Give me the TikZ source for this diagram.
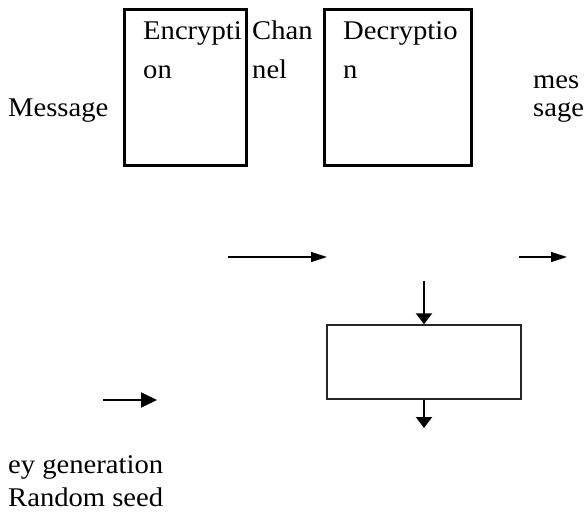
\documentclass[tikz,border=0pt]{standalone}
\usepackage{fontspec}
\setmainfont{Liberation Serif}
\usetikzlibrary{arrows.meta}
\begin{document}
\begin{tikzpicture}[x=1pt,y=-1pt,
  txt/.style={font=\fontsize{27}{30}\selectfont, inner sep=0pt, anchor=base west, xscale=1.06, transform shape},
  bigbox/.style={draw, line width=3pt, minimum width=122pt, minimum height=156pt, inner sep=0pt},
  thinbox/.style={draw, black!85, line width=1.4pt, minimum width=194pt, minimum height=74pt, inner sep=0pt},
  harrow/.style={line width=1.3pt, -{Triangle[length=16pt,width=10pt]}},
  vharrow/.style={line width=2pt, -{Triangle[length=11pt,width=16pt]}},
  larrow/.style={line width=2pt, -{Triangle[length=16pt,width=15pt]}}]
\useasboundingbox (0,0) rectangle (584,513);
% big boxes
\node[bigbox] (enc) at (185.5,87.5) {};
\node[bigbox, minimum width=147pt] (dec) at (398,87.5) {};
% texts
\node[txt] (t1) at (143,40) {Encrypti};
\node[txt] (t2) at (143,79) {on};
\node[txt] (t3) at (252,40) {Chan};
\node[txt] (t4) at (252,79) {nel};
\node[txt] (t5) at (343,40) {Decryptio};
\node[txt] (t6) at (343,79) {n};
\node[txt] (t7) at (533,89) {mes};
\node[txt] (t8) at (533,117) {sage};
\node[txt] (msg) at (8,117) {Message};
\node[txt] (kg) at (8,473) {ey generation};
\node[txt] (rs) at (8,506) {Random seed};
% arrows
\coordinate (a1s) at (228,257);
\coordinate (a1e) at (327,257);
\draw[harrow] (a1s) -- (a1e);
\coordinate (a2s) at (519,257);
\coordinate (a2e) at (567,257);
\draw[harrow] (a2s) -- (a2e);
% lower box
\node[thinbox] (kbox) at (424,362) {};
\coordinate (dtop) at (424,281);
\coordinate (dbot) at (424,428);
\draw[vharrow] (dtop) -- (kbox.north);
\draw[vharrow] (kbox.south) -- (dbot);
\coordinate (l1s) at (103,400);
\coordinate (l1e) at (157,400);
\draw[larrow] (l1s) -- (l1e);
\end{tikzpicture}
\end{document}
